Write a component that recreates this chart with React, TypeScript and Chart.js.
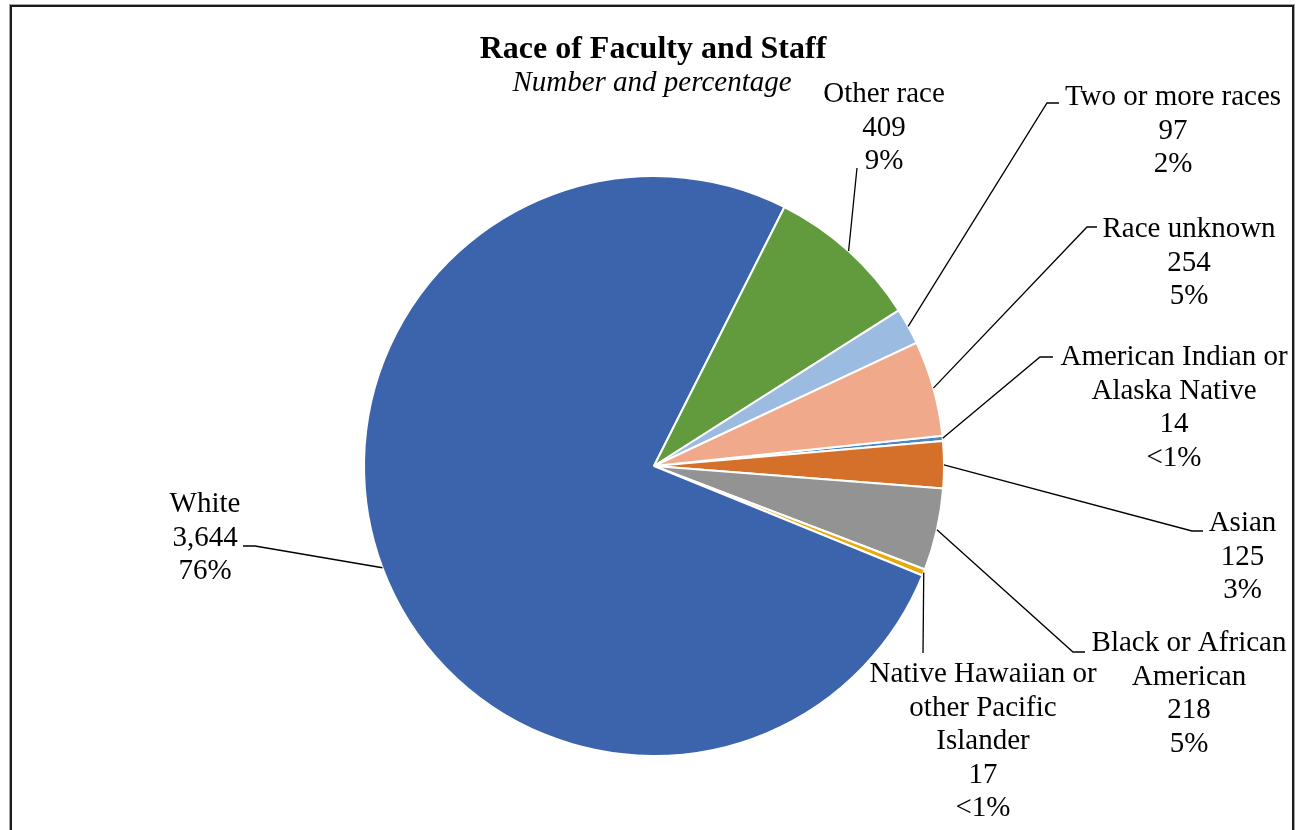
import React, { useEffect, useRef } from "react";
import { Chart, registerables } from "chart.js";

Chart.register(...registerables);

// ---- data ----
const CATEGORIES: string[][] = [
  ["American Indian or", "Alaska Native"],
  ["Asian"],
  ["Black or African", "American"],
  ["Native Hawaiian or", "other Pacific", "Islander"],
  ["White"],
  ["Other race"],
  ["Two or more races"],
  ["Race unknown"],
];
const VALUES: number[] = [14, 125, 218, 17, 3644, 409, 97, 254];
const COLORS: string[] = [
  "#4A86C8",
  "#D5702B",
  "#939393",
  "#E8A90A",
  "#3C64AD",
  "#629B3E",
  "#9BBBE0",
  "#F0A98A",
];
const TITLE = "Race of Faculty and Staff";
const SUBTITLE = "Number and percentage";

// ---- label layout (offsets from the pie centre, px) ----
// tx: text centre x, ty: first baseline, elbow: leader bend point, end: short horizontal tick end
type LabelPos = { tx: number; ty: number; elbow: [number, number]; end?: [number, number] };
const LABEL_LAYOUT: LabelPos[] = [
  { tx: 520, ty: -101, elbow: [386, -109], end: [399, -109] },
  { tx: 588.5, ty: 65, elbow: [538, 65], end: [549, 65] },
  { tx: 535, ty: 185, elbow: [419, 186], end: [431, 186] },
  { tx: 329, ty: 216, elbow: [269, 187] },
  { tx: -449, ty: 46, elbow: [-399, 80], end: [-411, 80] },
  { tx: 230, ty: -364, elbow: [203, -298] },
  { tx: 519, ty: -361, elbow: [393, -363], end: [405, -363] },
  { tx: 535, ty: -229, elbow: [433, -239], end: [443, -239] },
];
const LINE_HEIGHT = 33.6;
const FONT = '"Liberation Serif", "Times New Roman", serif';

export default function App() {
  const ref = useRef<HTMLCanvasElement>(null);

  useEffect(() => {
    if (!ref.current) return;
    const total = VALUES.reduce((a, b) => a + b, 0);
    const pctText = (v: number) => {
      const p = (v / total) * 100;
      return p < 1 ? "<1%" : Math.round(p) + "%";
    };

    const labelPlugin = {
      id: "pieLabels",
      afterDatasetsDraw(chart: any) {
        const ctx: CanvasRenderingContext2D = chart.ctx;
        const meta = chart.getDatasetMeta(0);
        ctx.save();
        ctx.fillStyle = "#000";
        ctx.textAlign = "center";
        ctx.textBaseline = "alphabetic";
        ctx.font = `bold 32px ${FONT}`;
        ctx.fillText(TITLE, 653, 58);
        ctx.font = `italic 29px ${FONT}`;
        ctx.fillText(SUBTITLE, 652, 91);

        meta.data.forEach((arc: any, i: number) => {
          const p = arc.getProps(["x", "y", "startAngle", "endAngle", "outerRadius"], true);
          const mid = (p.startAngle + p.endAngle) / 2;
          const sx = p.x + Math.cos(mid) * p.outerRadius;
          const sy = p.y + Math.sin(mid) * p.outerRadius;
          const L = LABEL_LAYOUT[i];
          ctx.strokeStyle = "#000";
          ctx.lineWidth = 1.3;
          ctx.beginPath();
          ctx.moveTo(sx, sy);
          ctx.lineTo(p.x + L.elbow[0], p.y + L.elbow[1]);
          if (L.end) ctx.lineTo(p.x + L.end[0], p.y + L.end[1]);
          ctx.stroke();

          const lines = [
            ...CATEGORIES[i],
            VALUES[i].toLocaleString("en-US"),
            pctText(VALUES[i]),
          ];
          ctx.font = `29px ${FONT}`;
          ctx.fillStyle = "#000";
          lines.forEach((t, k) => {
            ctx.fillText(t, p.x + L.tx, p.y + L.ty + k * LINE_HEIGHT);
          });
        });
        ctx.restore();
      },
    };

    const chart = new Chart(ref.current, {
      type: "pie",
      data: {
        labels: CATEGORIES.map((c) => c.join(" ")),
        datasets: [
          {
            data: VALUES,
            backgroundColor: COLORS,
            borderColor: "#FFFFFF",
            borderWidth: 2,
          },
        ],
      },
      options: {
        responsive: false,
        animation: false,
        rotation: 84,
        layout: { padding: { left: 363, right: 351, top: 175, bottom: 73 } },
        plugins: {
          legend: { display: false },
          tooltip: { enabled: false },
          title: { display: false },
        },
        events: [],
      },
      plugins: [labelPlugin],
    });
    return () => chart.destroy();
  }, []);

  return (
    <>
      <div
        style={{
          position: "fixed",
          left: 9,
          top: 4,
          width: 1286,
          height: 900,
          boxSizing: "border-box",
          border: "1px solid #a6a6a6",
        }}
      >
        <div
          style={{
            width: "100%",
            height: "100%",
            boxSizing: "border-box",
            border: "2px solid #1a1a1a",
          }}
        />
      </div>
      <canvas
        ref={ref}
        width={1296}
        height={830}
        style={{ position: "fixed", left: 0, top: 0, display: "block" }}
      />
    </>
  );
}
